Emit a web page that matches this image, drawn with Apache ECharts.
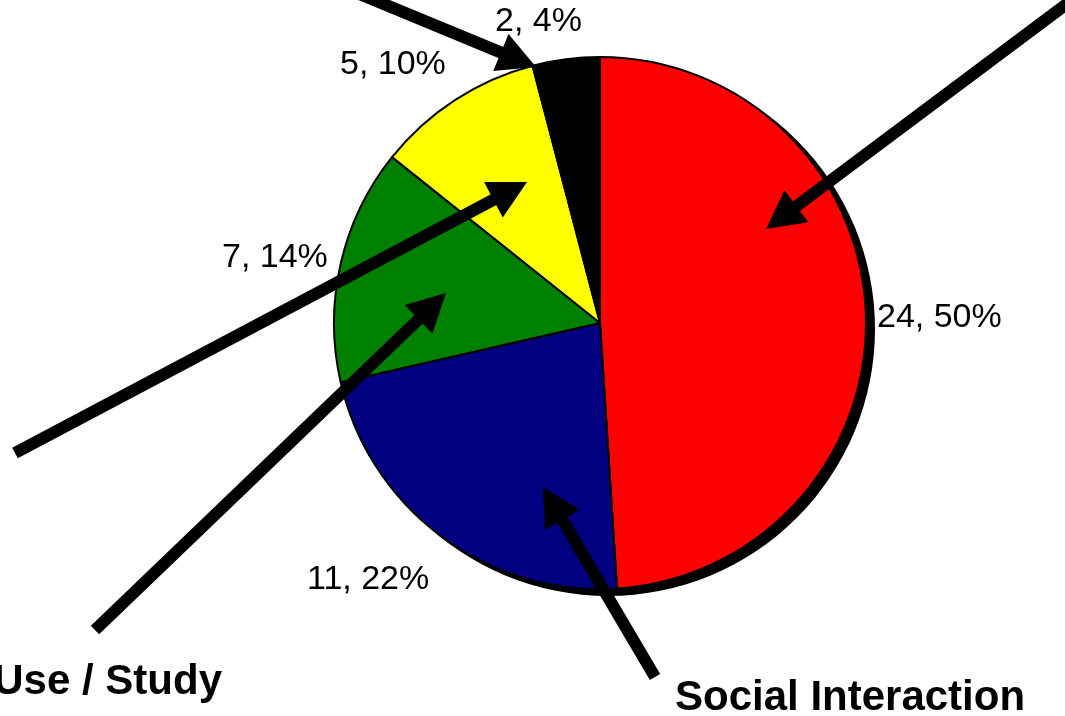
<!DOCTYPE html>
<html>
<head>
<meta charset="utf-8">
<script src="https://cdn.jsdelivr.net/npm/echarts@6/dist/echarts.min.js"></script>
<style>
html,body{margin:0;padding:0;background:#fff;}
#chart{width:1065px;height:716px;}
</style>
</head>
<body>
<div id="chart"></div>
<script>
// ---- data ----
const categories = ['Social Interaction', 'Other A', 'Use / Study', 'Other B', 'Other C'];
const counts = [24, 11, 7, 5, 2];
const percentLabels = ['50%', '22%', '14%', '10%', '4%'];
const sliceColors = ['#FF0000', '#000080', '#008000', '#FFFF00', '#000000'];
const annotationTexts = ['Social Interaction', 'Use / Study'];

// ---- layout (positions / styling only) ----
const CX = 600, CY = 323, R = 266;
const labelPos = [[877, 318], [307, 580], [222, 258], [340, 65], [495, 22]];
const arrows = [
  {from: [345, -12], to: [536, 67]},
  {from: [1072, 0], to: [766, 229]},
  {from: [15, 453], to: [527, 182]},
  {from: [95, 630], to: [446, 293]},
  {from: [655, 677], to: [543, 487]}
];

function arrowGraphic(a) {
  const [x1, y1] = a.from, [x2, y2] = a.to;
  const dx = x2 - x1, dy = y2 - y1, L = Math.hypot(dx, dy);
  const ux = dx / L, uy = dy / L, nx = -uy, ny = ux;
  const hl = 38, hw = 20;
  const bx = x2 - ux * hl, by = y2 - uy * hl;
  return [
    {type: 'line', z: 100, shape: {x1: x1, y1: y1, x2: bx + ux * 3, y2: by + uy * 3},
      style: {stroke: '#000', lineWidth: 12, lineCap: 'butt'}},
    {type: 'polygon', z: 100, shape: {points: [[x2, y2], [bx + nx * hw, by + ny * hw], [bx - nx * hw, by - ny * hw]]},
      style: {fill: '#000'}}
  ];
}

const graphics = [];
arrows.forEach(a => graphics.push(...arrowGraphic(a)));
graphics.push({type: 'text', z: 100, x: 675, y: 698,
  style: {text: annotationTexts[0], fill: '#000', font: 'bold 42px "Liberation Sans", Arial, sans-serif', align: 'left', verticalAlign: 'middle'}});
graphics.push({type: 'text', z: 100, x: 222, y: 682,
  style: {text: annotationTexts[1], fill: '#000', font: 'bold 42px "Liberation Sans", Arial, sans-serif', align: 'right', verticalAlign: 'middle'}});

const chart = echarts.init(document.getElementById('chart'), null, {renderer: 'canvas'});
chart.setOption({
  backgroundColor: '#fff',
  animation: false,
  series: [
    {
      type: 'pie', silent: true, z: 1,
      center: [CX + 8, CY + 6], radius: R + 1,
      label: {show: false}, labelLine: {show: false},
      itemStyle: {color: '#000', borderWidth: 0},
      data: [{value: 1, name: 'shadow'}]
    },
    {
      type: 'pie', z: 2,
      center: [CX, CY], radius: R,
      startAngle: 90, clockwise: true,
      itemStyle: {borderColor: '#000', borderWidth: 2},
      label: {
        show: true, position: 'outside',
        fontFamily: '"Liberation Sans", Arial, sans-serif', fontSize: 34, color: '#000',
        formatter: p => p.value + ', ' + percentLabels[p.dataIndex]
      },
      labelLine: {show: false},
      labelLayout: p => ({x: labelPos[p.dataIndex][0], y: labelPos[p.dataIndex][1], align: 'left', verticalAlign: 'middle'}),
      data: categories.map((c, i) => ({name: c, value: counts[i], itemStyle: {color: sliceColors[i]}}))
    }
  ],
  graphic: graphics
});
</script>
</body>
</html>
